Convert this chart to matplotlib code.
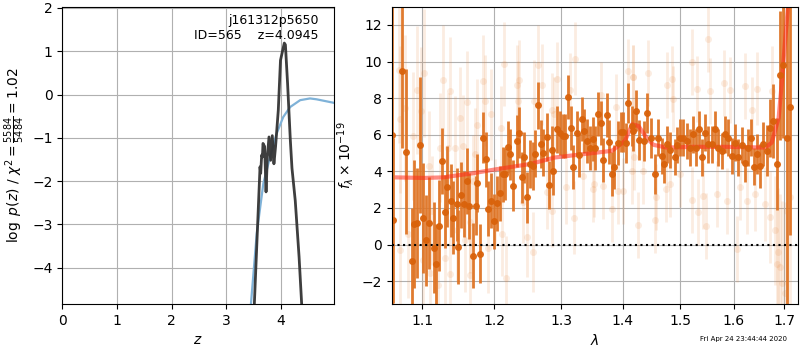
import matplotlib
matplotlib.use('Agg')
import matplotlib.pyplot as plt

# p(z) curves
z_pz = [3.51, 3.616, 3.628, 3.646, 3.66, 3.67, 3.70, 3.726, 3.75, 3.78, 3.81, 3.84, 3.87,
        3.90, 3.95, 3.99, 4.03, 4.06, 4.08, 4.12, 4.17, 4.20, 4.26, 4.33, 4.38]
logp = [-4.9, -1.67, -1.82, -1.40, -1.44, -1.13, -1.20, -2.25, -1.44, -0.98, -1.52, -0.95, -1.60,
        -1.20, -0.36, 0.79, 1.02, 1.19, 1.15, 0.25, -1.05, -1.70, -2.45, -3.75, -4.9]

z_chi = [3.446, 3.556, 3.677, 3.80, 3.92, 4.04, 4.165, 4.35, 4.53, 4.65, 4.96]
logp_chi = [-4.9, -3.21, -2.05, -1.44, -0.90, -0.52, -0.29, -0.13, -0.09, -0.11, -0.19]

# spectrum, binned points
wave = [1.0610, 1.0627, 1.0735, 1.0790, 1.0872, 1.0898, 1.0937, 1.0974, 1.1017, 1.1049, 1.1089,
        1.1164, 1.1191, 1.1231, 1.1271, 1.1312, 1.1339, 1.1386, 1.1422, 1.1468, 1.1491,
        1.1532, 1.1570, 1.1608, 1.1645, 1.1693, 1.1739, 1.1757, 1.1795, 1.1842, 1.1881,
        1.1914, 1.1952, 1.1996, 1.2043, 1.2082, 1.2121, 1.2155, 1.2194, 1.2228, 1.2277,
        1.2327, 1.2361, 1.2401, 1.2440, 1.2485, 1.2526, 1.2567, 1.2606, 1.2652, 1.2688,
        1.2728, 1.2780, 1.2820, 1.2856, 1.2881, 1.2934, 1.2986, 1.3028, 1.3064, 1.3116,
        1.3159, 1.3195, 1.3249, 1.3291, 1.3329, 1.3371, 1.3419, 1.3462, 1.3506, 1.3548,
        1.3597, 1.3641, 1.3679, 1.3735, 1.3778, 1.3828, 1.3861, 1.3918, 1.3968, 1.4012,
        1.4057, 1.4097, 1.4154, 1.4171, 1.4227, 1.4284, 1.4365, 1.4422, 1.4481, 1.4556,
        1.4614, 1.4674, 1.4720, 1.4773, 1.4821, 1.4910, 1.4951, 1.5000, 1.5060, 1.5122,
        1.5182, 1.5242, 1.5292, 1.5347, 1.5397, 1.5458, 1.5520, 1.5583, 1.5645, 1.5707,
        1.5771, 1.5834, 1.5898, 1.5963, 1.6026, 1.6090, 1.6155, 1.6219, 1.6284, 1.6331,
        1.6396, 1.6461, 1.6515, 1.6581, 1.6648, 1.6714, 1.6781, 1.6849, 1.6917, 1.6985,
        1.7067, 1.7121]
flux = [6.0, 1.32, 9.46, 5.08, -0.91, 1.10, 1.17, 5.44, 1.46, 0.23, 1.17,
        -0.17, -1.09, 1.03, 4.57, 1.80, 3.16, 2.40, 1.46, 2.19, -0.13,
        2.69, 2.22, 3.49, 2.09, -0.60, 2.13, 3.36, -0.49, 5.84, 4.66,
        1.95, 2.40, 1.28, 2.26, 2.80, 3.85, 3.85, 5.33, 4.94, 3.22,
        5.66, 6.11, 3.67, 4.76, 2.58, 4.39, 4.30, 4.97, 7.61, 5.48,
        5.03, 5.88, 3.27, 5.17, 4.03, 6.29, 6.11, 5.93, 5.93, 8.05,
        6.35, 4.25, 6.11, 4.90, 6.84, 6.20, 5.66, 5.30, 5.75, 5.30,
        7.14, 6.62, 4.61, 7.07, 5.62, 3.85, 4.25, 5.57, 6.17, 6.15,
        5.57, 7.74, 6.47, 6.20, 7.32, 5.70, 5.66, 7.20, 5.84, 3.85,
        5.84, 4.85, 4.39, 5.48, 5.17, 4.79, 5.44, 5.84, 5.84, 5.66,
        5.30, 6.02, 5.30, 6.29, 4.76, 6.11, 5.48, 5.48, 6.29, 5.30,
        5.12, 6.02, 5.84, 4.85, 5.57, 4.76, 5.44, 4.43, 5.30, 5.84,
        4.25, 4.94, 4.30, 5.48, 5.12, 6.38, 6.75, 4.39, 9.24, 9.82,
        5.84, 7.50]
flux_err = [10.0, 4.5, 4.2, 4.5, 2.9, 3.5, 3.0, 3.7, 3.0, 2.5, 2.5,
            2.5, 2.2, 2.5, 1.8, 2.0, 2.2, 2.0, 2.0, 2.0, 2.0,
            1.8, 1.8, 1.8, 1.8, 1.8, 1.6, 1.6, 1.6, 1.4, 1.5,
            1.5, 1.5, 1.5, 1.5, 1.5, 1.5, 1.4, 1.4, 1.4, 1.4,
            1.4, 1.4, 1.4, 1.4, 1.4, 1.3, 1.3, 1.3, 1.3, 1.3,
            1.3, 1.3, 1.3, 1.3, 1.3, 1.3, 1.2, 1.2, 1.2, 1.2,
            1.2, 1.2, 1.2, 1.2, 1.2, 1.2, 1.2, 1.2, 1.2, 1.2,
            1.2, 1.2, 1.2, 1.2, 1.2, 1.2, 1.2, 1.2, 1.1, 1.1,
            1.1, 1.1, 1.1, 1.1, 1.1, 1.1, 1.1, 1.1, 1.1, 1.1,
            1.0, 1.0, 1.0, 1.0, 1.0, 1.0, 1.0, 1.0, 1.0, 1.0,
            1.0, 1.0, 1.0, 1.0, 1.0, 1.0, 1.0, 1.0, 1.0, 1.0,
            1.0, 1.0, 1.0, 1.0, 1.0, 1.0, 1.0, 1.0, 1.0, 1.0,
            1.0, 1.1, 1.2, 1.2, 1.4, 1.6, 2.0, 2.5, 3.5, 4.0,
            12.0, 7.0]

# spectrum, unbinned points (faint)
wave_raw = [1.0700, 1.0713, 1.0777, 1.0886, 1.0930, 1.0983, 1.1030, 1.1097, 1.1129, 1.1240,
            1.1285, 1.1353, 1.1376, 1.1445, 1.1514, 1.1617, 1.1561, 1.1655, 1.1376, 1.1106,
            1.1017, 1.0713, 1.0816, 1.1217, 1.1308, 1.1468, 1.1585, 1.1655, 1.1702,
            1.1834, 1.1867, 1.1757, 1.1948, 1.1725, 1.1914, 1.2092, 1.2140, 1.2169, 1.2366,
            1.2327, 1.2351, 1.2476, 1.2567, 1.2591, 1.2652, 1.2703, 1.2856, 1.2425, 1.2106,
            1.2010, 1.2780, 1.2897,
            1.2944, 1.3143, 1.3222, 1.3080, 1.3206, 1.2856, 1.3506, 1.3532, 1.3679, 1.3828,
            1.3928, 1.4002, 1.3636, 1.3889, 1.4087, 1.4171, 1.4154, 1.3355,
            1.5520, 1.5213, 1.4851, 1.4762, 1.4440, 1.4181, 1.4880, 1.5304, 1.5551, 1.4193,
            1.4342, 1.4556, 1.4267, 1.4750, 1.5213, 1.5335, 1.5477, 1.5416, 1.5000, 1.4574,
            1.4821,
            1.5815, 1.6219, 1.6461, 1.6748, 1.6350, 1.5930, 1.5677, 1.5866, 1.6122, 1.6251,
            1.6416, 1.6614, 1.6714, 1.6815, 1.6883, 1.6917, 1.6951, 1.7019, 1.6058, 1.6849,
            1.7054, 1.7121]
flux_raw = [9.55, 6.84, 7.47, 5.93, 8.46, 7.29, 9.37, 4.30, 1.86, 5.30,
            9.01, 5.30, 8.37, 5.30, 6.93, 7.78, 5.39, -1.67, -1.60, -1.58,
            -0.85, -0.31, 0.59, -2.21, -0.76, 0.77, 0.23, 1.23, 3.49,
            8.95, 7.87, 6.56, 7.11, 4.94, -0.17, 6.35, 9.86, -1.85, 8.99,
            8.70, 7.83, 0.41, -0.42, 7.87, 9.79, 8.74, 7.38, 2.31, 0.59,
            2.40, 2.85, 7.16,
            9.06, 8.46, 10.15, 3.13, 1.46, 1.86, 3.04, 3.31, 3.22, 1.95,
            2.95, 2.91, 8.16, 7.50, 9.46, 9.13, 4.00, 3.76,
            11.23, 9.97, 9.06, 8.74, 9.37, 9.13, 7.97, 8.52, 8.41, 4.76,
            4.00, 1.32, 1.05, 3.04, 2.44, 1.77, 0.99, 2.67, 3.85, 2.58,
            3.31,
            8.83, 8.65, 8.52, 8.37, 7.38, 8.46, 2.76, 2.40, 3.13, 2.40,
            2.76, 2.22, 1.50, 0.77, -0.40, -1.22, -2.12, -2.67, -0.22, -1.04,
            1.86, 2.58]
flux_raw_err = [4.0, 4.0, 4.0, 3.5, 3.5, 3.5, 3.5, 3.0, 3.0, 3.0,
                3.0, 3.0, 3.0, 2.8, 2.8, 2.8, 2.8, 2.8, 3.0, 3.0,
                3.0, 4.0, 3.5, 3.0, 3.0, 2.8, 2.8, 2.8, 2.5,
                2.5, 2.5, 2.5, 2.5, 2.5, 2.5, 2.3, 2.3, 2.3, 2.2,
                2.2, 2.2, 2.2, 2.2, 2.2, 2.2, 2.2, 2.0, 2.2, 2.3,
                2.3, 2.0, 2.0,
                2.0, 2.0, 2.0, 2.0, 2.0, 2.0, 1.8, 1.8, 1.8, 1.8,
                1.8, 1.8, 1.8, 1.8, 1.8, 1.8, 1.8, 1.8,
                1.8, 1.8, 1.8, 1.8, 1.8, 1.8, 1.8, 1.8, 1.8, 1.8,
                1.8, 1.8, 1.8, 1.8, 1.8, 1.8, 1.8, 1.8, 1.8, 1.8,
                1.8,
                1.8, 1.8, 2.0, 2.5, 1.8, 1.8, 1.8, 1.8, 1.8, 1.8,
                2.0, 2.0, 2.5, 3.0, 3.5, 4.0, 4.5, 5.0, 1.8, 4.0,
                5.0, 6.0]

# model
wave_model = [1.067, 1.102, 1.128, 1.170, 1.2035, 1.2527, 1.291, 1.330, 1.382, 1.404,
              1.416, 1.427, 1.441, 1.453, 1.476, 1.524, 1.587, 1.662, 1.675, 1.689,
              1.695, 1.702, 1.709]
flux_model = [3.67, 3.64, 3.67, 3.90, 4.12, 4.40, 4.76, 4.92, 5.12, 5.66,
              6.57, 6.48, 5.84, 5.45, 5.30, 5.34, 5.34, 5.30, 5.57, 6.93,
              8.74, 11.1, 13.3]

fig = plt.figure(figsize=(8, 3.5), dpi=100)
ax1 = fig.add_axes([0.0779, 0.1314, 0.339, 0.8495])
ax2 = fig.add_axes([0.4896, 0.1314, 0.5083, 0.8495])

# painel p(z)
ax1.plot(z_chi, logp_chi, color='#7fb2d8', lw=1.6)
ax1.plot(z_pz, logp, color='#333333', lw=2, alpha=0.95)
ax1.set_xlim(0, 4.96)
ax1.set_ylim(-4.84, 2.03)
ax1.set_xticks([0, 1, 2, 3, 4])
ax1.set_yticks([-4, -3, -2, -1, 0, 1, 2])
ax1.grid(True)
ax1.set_xlabel('$z$')
ax1.set_ylabel(r'$\log\ p(z)$ / $\chi^2=\frac{5584}{5484}=1.02$')
ax1.text(0.945, 0.975, 'j161312p5650\nID=565    z=4.0945', transform=ax1.transAxes,
         ha='right', va='top', fontsize=9)

# painel espectro
ax2.errorbar(wave_raw, flux_raw, yerr=flux_raw_err, fmt='o', color='#e8863a',
             alpha=0.15, ms=5, elinewidth=2, mew=0)
ax2.errorbar(wave, flux, yerr=flux_err, fmt='o', color='#d9620b', ecolor='#df7424',
             alpha=0.95, ms=5, elinewidth=2, mew=0)
ax2.plot(wave_model, flux_model, color='#ff2a1a', lw=3, alpha=0.55)
ax2.axhline(0, color='k', ls=':', lw=1.5)
ax2.set_xscale('log')
ax2.set_xticks([1.1, 1.2, 1.3, 1.4, 1.5, 1.6, 1.7])
ax2.set_xticklabels(['1.1', '1.2', '1.3', '1.4', '1.5', '1.6', '1.7'])
ax2.minorticks_off()
ax2.set_xlim(1.0606, 1.7294)
ax2.set_ylim(-3.25, 13)
ax2.set_yticks([-2, 0, 2, 4, 6, 8, 10, 12])
ax2.grid(True)
ax2.set_xlabel(r'$\lambda$')
ax2.set_ylabel(r'$f_\lambda\times 10^{-19}$')

fig.text(0.984, 0.032, 'Fri Apr 24 23:44:44 2020', ha='right', va='center', fontsize=5)

fig.savefig('out.png', dpi=100)
